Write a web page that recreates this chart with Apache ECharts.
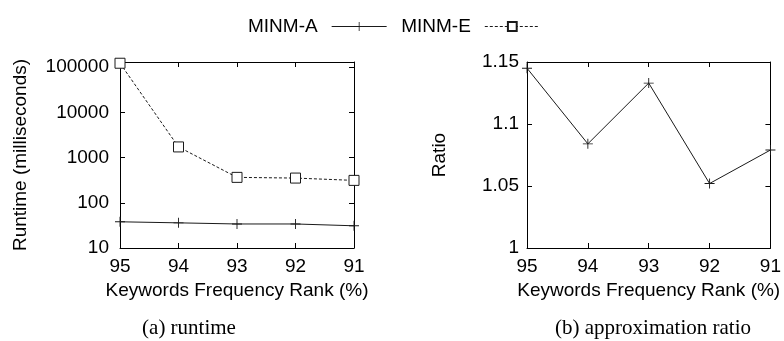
<!DOCTYPE html>
<html>
<head>
<meta charset="utf-8">
<script src="https://cdn.jsdelivr.net/npm/echarts@6/dist/echarts.min.js"></script>
<style>
html,body{margin:0;padding:0;background:#fff;}
#c{width:784px;height:341px;}
</style>
</head>
<body>
<div id="c"></div>
<script>
const categories = ['95', '94', '93', '92', '91'];
const runtimeA = [38, 36, 34, 34, 31];
const runtimeE = [122000, 1720, 365, 352, 313];
const ratioA = [1.145, 1.084, 1.133, 1.052, 1.079];
const runtimeTicks = [10, 100, 1000, 10000, 100000];
const ratioTicks = [1, 1.05, 1.1, 1.15];
const seriesNames = ['MINM-A', 'MINM-E'];
const xTitle = 'Keywords Frequency Rank (%)';
const captions = ['(a) runtime', '(b) approximation ratio'];

const SANS = "'Liberation Sans', Arial, Helvetica, sans-serif";
const SERIF = "'Liberation Serif', 'Times New Roman', serif";
const INK = '#000';
const LINE = '#1a1a1a';
const plusPath = 'path://M0,4.55H10V5.45H0Z M4.55,0H5.45V10H4.55Z';

function xAxes(grid, bottomName) {
  const base = {
    gridIndex: grid, type: 'category', data: categories, boundaryGap: false,
    axisLine: {show: true, lineStyle: {color: INK, width: 1}},
    axisTick: {show: true, inside: true, length: 5, lineStyle: {color: INK}},
    splitLine: {show: false}
  };
  return [
    Object.assign({}, base, {
      position: 'bottom',
      axisLabel: {show: true, margin: 9, fontSize: 19, fontFamily: SANS, color: INK},
      name: bottomName, nameLocation: 'middle', nameGap: 31,
      nameTextStyle: {fontSize: 19, fontFamily: SANS, color: INK}
    }),
    Object.assign({}, base, {position: 'top', axisLabel: {show: false}})
  ];
}

const yCommon = {
  axisLine: {show: true, lineStyle: {color: INK, width: 1}},
  axisTick: {show: true, inside: true, length: 5, lineStyle: {color: INK}},
  splitLine: {show: false}
};

const option = {
  animation: false,
  backgroundColor: '#fff',
  textStyle: {fontFamily: SANS},
  title: [
    {text: captions[0], left: 189, top: 318, textAlign: 'center', padding: 0,
     textStyle: {fontFamily: SERIF, fontSize: 21, fontWeight: 'normal', color: INK}},
    {text: captions[1], left: 653, top: 318, textAlign: 'center', padding: 0,
     textStyle: {fontFamily: SERIF, fontSize: 21, fontWeight: 'normal', color: INK}}
  ],
  legend: {
    data: seriesNames, left: 248, top: 17, padding: 0, align: 'right',
    itemWidth: 55, itemHeight: 11, itemGap: 14,
    lineStyle: {width: 1},
    textStyle: {fontSize: 19, fontFamily: SANS, color: INK, padding: [0, 9, 0, 0]}
  },
  grid: [
    {left: 120, top: 62, width: 234, height: 186, show: false},
    {left: 527, top: 62, width: 247, height: 186, show: false}
  ],
  xAxis: [].concat(xAxes(0, xTitle), xAxes(1, xTitle)),
  yAxis: [
    Object.assign({}, yCommon, {
      gridIndex: 0, type: 'log', logBase: 10,
      min: runtimeTicks[0], max: 130000, position: 'left',
      axisLabel: {show: true, margin: 11, fontSize: 19, fontFamily: SANS, color: INK,
        formatter: v => (runtimeTicks.some(t => Math.abs(t - v) / t < 1e-6) ? String(Math.round(v)) : '')},
      name: 'Runtime (milliseconds)', nameLocation: 'middle', nameGap: 90,
      nameTextStyle: {fontSize: 19, fontFamily: SANS, color: INK}
    }),
    Object.assign({}, yCommon, {
      gridIndex: 0, type: 'log', logBase: 10,
      min: runtimeTicks[0], max: 130000, position: 'right',
      axisLabel: {show: false}
    }),
    Object.assign({}, yCommon, {
      gridIndex: 1, type: 'value',
      min: ratioTicks[0], max: ratioTicks[ratioTicks.length - 1], interval: 0.05, position: 'left',
      axisLabel: {show: true, margin: 8, fontSize: 19, fontFamily: SANS, color: INK},
      name: 'Ratio', nameLocation: 'middle', nameGap: 78,
      nameTextStyle: {fontSize: 19, fontFamily: SANS, color: INK}
    }),
    Object.assign({}, yCommon, {
      gridIndex: 1, type: 'value',
      min: ratioTicks[0], max: ratioTicks[ratioTicks.length - 1], interval: 0.05, position: 'right',
      axisLabel: {show: false}
    })
  ],
  series: [
    {
      name: seriesNames[0], type: 'line', xAxisIndex: 0, yAxisIndex: 0, data: runtimeA,
      symbol: plusPath, symbolSize: 10, showAllSymbol: true,
      lineStyle: {color: LINE, width: 1},
      itemStyle: {color: LINE, borderWidth: 0}
    },
    {
      name: seriesNames[1], type: 'line', xAxisIndex: 0, yAxisIndex: 0, data: runtimeE,
      symbol: 'rect', symbolSize: 10, showAllSymbol: true,
      lineStyle: {color: LINE, width: 1, type: [3, 2]},
      itemStyle: {color: '#fff', borderColor: LINE, borderWidth: 1}
    },
    {
      name: seriesNames[0], type: 'line', xAxisIndex: 2, yAxisIndex: 2, data: ratioA,
      symbol: plusPath, symbolSize: 10, showAllSymbol: true,
      lineStyle: {color: LINE, width: 1},
      itemStyle: {color: LINE, borderWidth: 0}
    }
  ]
};

const chart = echarts.init(document.getElementById('c'), null, {renderer: 'canvas'});
chart.setOption(option);
</script>
</body>
</html>
